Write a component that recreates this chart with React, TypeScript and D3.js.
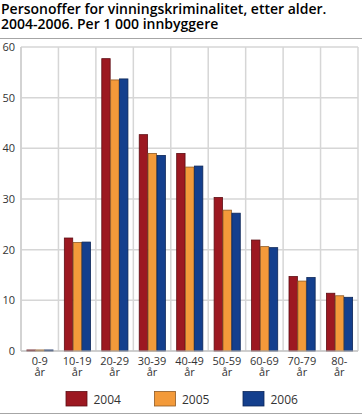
import React from 'react';
import * as d3 from 'd3';

const categories = ['0-9 år', '10-19 år', '20-29 år', '30-39 år', '40-49 år', '50-59 år', '60-69 år', '70-79 år', '80- år'];
const years = ['2004', '2005', '2006'];
const values2004 = [0.2, 22.3, 57.7, 42.7, 39.0, 30.3, 21.9, 14.7, 11.4];
const values2005 = [0.2, 21.4, 53.5, 39.0, 36.3, 27.8, 20.6, 13.8, 10.9];
const values2006 = [0.2, 21.5, 53.7, 38.6, 36.5, 27.2, 20.4, 14.5, 10.6];
const yTicks = [0, 10, 20, 30, 40, 50, 60];
const titleLines = ['Personoffer for vinningskriminalitet, etter alder.', '2004-2006. Per 1 000 innbyggere'];

const colors = ['#9c1821', '#f39a3a', '#143f8d'];
const strokes = ['#5e0e14', '#8f5a24', '#0c2657'];

const W = 362;
const H = 416;
const margin = { top: 47, right: 4, bottom: 65, left: 21 };
const font = '"Open Sans", "DejaVu Sans", sans-serif';

const App: React.FC = () => {
  const series = [values2004, values2005, values2006];
  const innerPad = 0.288;

  const x0 = d3.scaleBand<string>()
    .domain(categories)
    .range([margin.left, W - margin.right])
    .paddingInner(innerPad)
    .paddingOuter(innerPad / 2);

  const x1 = d3.scaleBand<string>()
    .domain(years)
    .range([0, x0.bandwidth()]);

  const y = d3.scaleLinear()
    .domain([0, 60])
    .range([H - margin.bottom, margin.top]);

  const step = x0.step();
  const boundaries = categories.map(c => (x0(c) as number) - (step * innerPad) / 2);
  boundaries.push(W - margin.right);

  return (
    <svg width={W} height={H} style={{ position: 'absolute', left: 0, top: 0, background: '#fff' }}>
      {titleLines.map((t, i) => (
        <text key={t} x={1} y={13.5 + i * 15} fontFamily={font} fontSize={14} fontWeight={600} fill="#000">{t}</text>
      ))}
      <line x1={0} x2={W} y1={38.5} y2={38.5} stroke="#a6a6a6" strokeWidth={1} />

      {/* grid */}
      {yTicks.map(t => (
        <line key={'h' + t} x1={margin.left} x2={W - margin.right} y1={y(t)} y2={y(t)} stroke="#d6d6d6" strokeWidth={1.5} />
      ))}
      {boundaries.map((b, i) => (
        <line key={'v' + i} x1={b} x2={b} y1={y(60)} y2={y(0)} stroke="#d6d6d6" strokeWidth={1.5} />
      ))}
      <line x1={margin.left} x2={margin.left} y1={y(60)} y2={y(0)} stroke="#cfcfcf" strokeWidth={1.5} />

      {yTicks.map(t => (
        <text key={'yl' + t} x={15} y={y(t) + 4} textAnchor="end" fontFamily={font} fontSize={11} fill="#333">{t}</text>
      ))}

      {/* bars */}
      {categories.map((c, ci) => (
        <g key={c} transform={`translate(${x0(c)},0)`}>
          {years.map((yr, si) => {
            const v = series[si][ci];
            return (
              <rect
                key={yr}
                x={(x1(yr) as number) + 0.5}
                y={y(v)}
                width={x1.bandwidth() - 0.5}
                height={y(0) - y(v)}
                fill={colors[si]}
                stroke={strokes[si]}
                strokeWidth={0.8}
              />
            );
          })}
        </g>
      ))}
      <line x1={margin.left} x2={W - margin.right} y1={y(0)} y2={y(0)} stroke="#bdbdbd" strokeWidth={1} />

      {categories.map(c => {
        const parts = c.split(' ');
        const cx = (x0(c) as number) + x0.bandwidth() / 2;
        return (
          <g key={'xl' + c}>
            <text x={cx} y={364.5} textAnchor="middle" fontFamily={font} fontSize={11} fill="#333">{parts[0]}</text>
            <text x={cx} y={376} textAnchor="middle" fontFamily={font} fontSize={11} fill="#333">{parts[1]}</text>
          </g>
        );
      })}

      {/* legend */}
      {years.map((yr, i) => (
        <g key={'lg' + yr} transform={`translate(${66 + i * 88.5},391.5)`}>
          <rect x={0} y={0} width={21} height={14.5} fill={colors[i]} stroke={strokes[i]} strokeWidth={0.8} />
          <text x={27.5} y={12} fontFamily={font} fontSize={12} fill="#333">{yr}</text>
        </g>
      ))}
      <line x1={0} x2={W} y1={413.5} y2={413.5} stroke="#a6a6a6" strokeWidth={1} />
    </svg>
  );
};

export default App;
